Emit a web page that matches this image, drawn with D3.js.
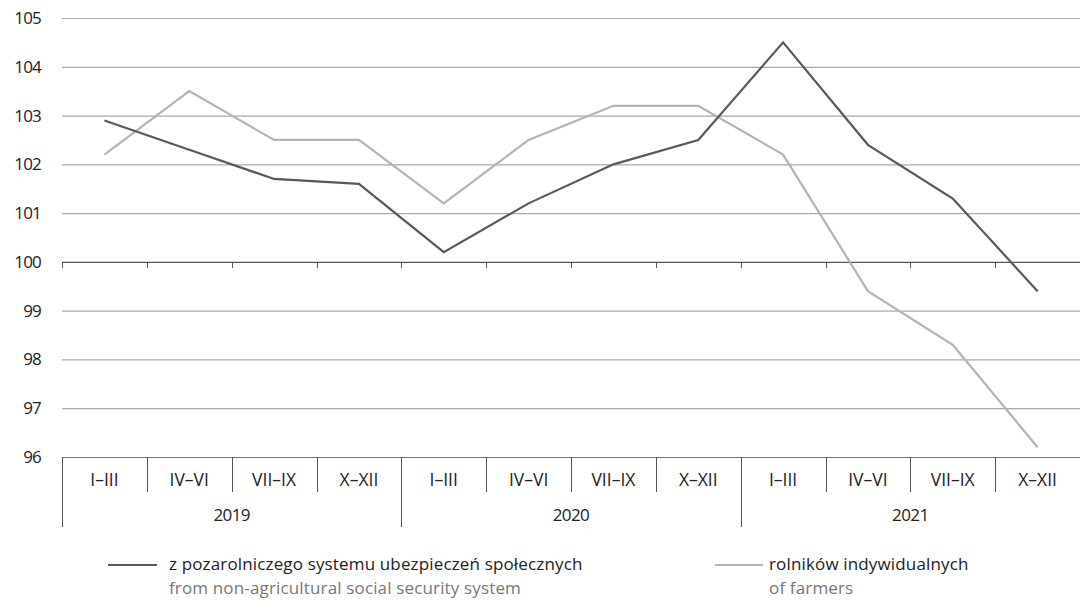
<!DOCTYPE html>
<html><head><meta charset="utf-8">
<script src="https://cdn.jsdelivr.net/npm/d3@7"></script>
<style>
body{margin:0;background:#fff;}
svg text{font-family:"Open Sans","Noto Sans",sans-serif;}
</style></head>
<body><svg id="c" width="1080" height="601"></svg>
<script>
const quarters = ["I–III","IV–VI","VII–IX","X–XII","I–III","IV–VI","VII–IX","X–XII","I–III","IV–VI","VII–IX","X–XII"];
const years = ["2019","2020","2021"];
const yTicks = [96,97,98,99,100,101,102,103,104,105];
const seriesNonAgri = [102.9,102.3,101.7,101.6,100.2,101.2,102.0,102.5,104.5,102.4,101.3,99.4];
const seriesFarmers = [102.2,103.5,102.5,102.5,101.2,102.5,103.2,103.2,102.2,99.4,98.3,96.2];
const legendPl = ["z pozarolniczego systemu ubezpieczeń społecznych","rolników indywidualnych"];
const legendEn = ["from non-agricultural social security system","of farmers"];

(function(){
const svg = d3.select("#c");
const mL = 62, mR = 1080, mT = 18, mB = 457;
const fs = 17.5;
const idx = d3.range(quarters.length);
const x = d3.scaleBand().domain(idx).range([mL, mR]).padding(0);
const y = d3.scaleLinear().domain([96,105]).range([mB, mT]);

svg.append("g").selectAll("line").data(yTicks.filter(v=>v!==100 && v!==96)).join("line")
  .attr("x1", mL).attr("x2", mR)
  .attr("y1", d=>y(d)+0.5).attr("y2", d=>y(d)+0.5)
  .attr("stroke", "#aaaaaa").attr("stroke-width", 1.2);

svg.append("g").selectAll("text").data(yTicks).join("text")
  .attr("x", 41).attr("y", d=>y(d)).attr("dy","0.35em")
  .attr("text-anchor","end").attr("font-size", 17).attr("fill","#222")
  .attr("letter-spacing", -0.8)
  .text(d=>d);

svg.append("line").attr("x1",mL).attr("x2",mR).attr("y1",y(100)+0.5).attr("y2",y(100)+0.5)
  .attr("stroke","#555").attr("stroke-width",1.2);
svg.append("g").selectAll("line").data(idx).join("line")
  .attr("x1", d=>Math.round(x(d))+0.5).attr("x2", d=>Math.round(x(d))+0.5)
  .attr("y1", y(100)).attr("y2", y(100)+6)
  .attr("stroke","#555").attr("stroke-width",1);

svg.append("line").attr("x1",mL).attr("x2",mR).attr("y1",mB+0.5).attr("y2",mB+0.5)
  .attr("stroke","#777").attr("stroke-width",1.2);
svg.append("g").selectAll("line").data(idx).join("line")
  .attr("x1", d=>Math.round(x(d))+0.5).attr("x2", d=>Math.round(x(d))+0.5)
  .attr("y1", mB).attr("y2", d=> d%4===0 ? 527 : 492)
  .attr("stroke","#555").attr("stroke-width",1);

svg.append("g").selectAll("text").data(idx).join("text")
  .attr("x", d=>x(d)+x.bandwidth()/2).attr("y", 486)
  .attr("text-anchor","middle").attr("font-size",fs).attr("fill","#222")
  .text(d=>quarters[d]);
svg.append("g").selectAll("text").data(years).join("text")
  .attr("x", (d,i)=>x(i*4)+x.bandwidth()*2).attr("y", 521)
  .attr("text-anchor","middle").attr("font-size",17).attr("fill","#222")
  .attr("letter-spacing", -0.6)
  .text(d=>d);

const line = d3.line().x((d,i)=>x(i)+x.bandwidth()/2).y(d=>y(d));
svg.append("path").datum(seriesFarmers).attr("d", line)
  .attr("fill","none").attr("stroke","#b3b3b3").attr("stroke-width",2.2);
svg.append("path").datum(seriesNonAgri).attr("d", line)
  .attr("fill","none").attr("stroke","#595959").attr("stroke-width",2.2);

const leg = [{x1:108,x2:157,tx:169,c:"#595959"},{x1:715,x2:763,tx:769,c:"#b3b3b3"}];
leg.forEach((l,i)=>{
  svg.append("line").attr("x1",l.x1).attr("x2",l.x2).attr("y1",565).attr("y2",565)
    .attr("stroke",l.c).attr("stroke-width",2.2);
  svg.append("text").attr("x",l.tx).attr("y",569.5).attr("font-size",17).attr("fill","#222")
    .attr("letter-spacing",0.15).text(legendPl[i]);
  svg.append("text").attr("x",l.tx).attr("y",593.5).attr("font-size",17).attr("fill","#777")
    .attr("letter-spacing",0.15).text(legendEn[i]);
});
})();
</script></body></html>
